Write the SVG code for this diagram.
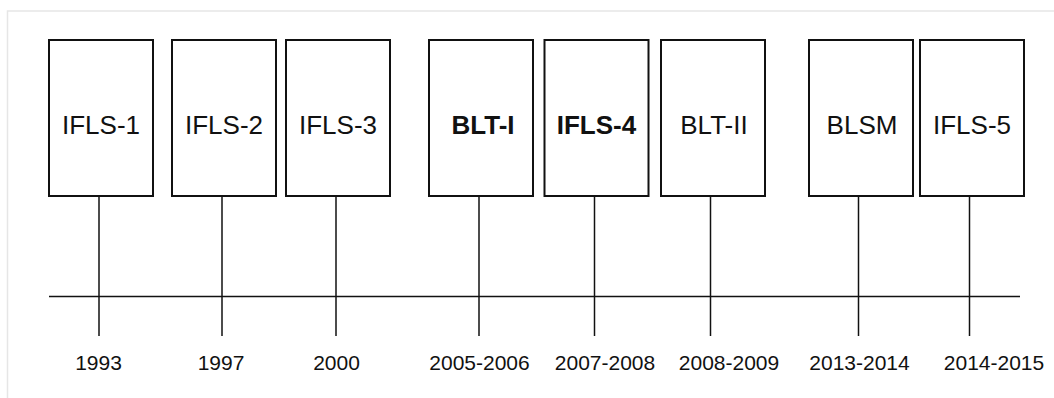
<svg xmlns="http://www.w3.org/2000/svg" width="1054" height="398" viewBox="0 0 1054 398">
  <style>
    .frame { fill: none; stroke: #e6e6e6; stroke-width: 1.5; }
    .box { fill: #ffffff; stroke: #111111; stroke-width: 2; }
    .label { font-family: "Liberation Sans", Arial, sans-serif; font-size: 26px; fill: #111111; text-anchor: middle; }
    .label.strong { font-weight: bold; }
    .year { font-family: "Liberation Sans", Arial, sans-serif; font-size: 21px; fill: #111111; text-anchor: middle; }
    .conn { stroke: #111111; stroke-width: 1.5; fill: none; }
  </style>
  <rect width="1054" height="398" fill="#ffffff"/>
  <!-- outer frame edges -->
  <path class="frame" d="M7.5 398 V11 H1054"/>

  <!-- timeline axis and ticks -->
  <g id="connectors">
    <line class="conn" x1="49" y1="296.5" x2="1020" y2="296.5"/>
    <line class="conn" x1="99" y1="197" x2="99" y2="336"/>
    <line class="conn" x1="222" y1="197" x2="222" y2="336"/>
    <line class="conn" x1="336" y1="197" x2="336" y2="336"/>
    <line class="conn" x1="479" y1="197" x2="479" y2="336"/>
    <line class="conn" x1="594.5" y1="197" x2="594.5" y2="336"/>
    <line class="conn" x1="710.5" y1="197" x2="710.5" y2="336"/>
    <line class="conn" x1="858.5" y1="197" x2="858.5" y2="336"/>
    <line class="conn" x1="969.5" y1="197" x2="969.5" y2="336"/>
  </g>

  <g id="ifls1">
    <rect class="box" x="49" y="40" width="104" height="156"/>
    <text class="label" x="101" y="134">IFLS-1</text>
    <text class="year" x="98.5" y="370">1993</text>
  </g>
  <g id="ifls2">
    <rect class="box" x="172" y="40" width="104" height="156"/>
    <text class="label" x="224" y="134">IFLS-2</text>
    <text class="year" x="221" y="370">1997</text>
  </g>
  <g id="ifls3">
    <rect class="box" x="286" y="40" width="104" height="156"/>
    <text class="label" x="338" y="134">IFLS-3</text>
    <text class="year" x="336.5" y="370">2000</text>
  </g>
  <g id="blt1">
    <rect class="box" x="429" y="40" width="104" height="156"/>
    <text class="label strong" x="483" y="134">BLT-I</text>
    <text class="year" x="479.5" y="370">2005-2006</text>
  </g>
  <g id="ifls4">
    <rect class="box" x="544.5" y="40" width="104" height="156"/>
    <text class="label strong" x="596.5" y="134">IFLS-4</text>
    <text class="year" x="605" y="370">2007-2008</text>
  </g>
  <g id="blt2">
    <rect class="box" x="661" y="40" width="104" height="156"/>
    <text class="label" x="714" y="134">BLT-II</text>
    <text class="year" x="729" y="370">2008-2009</text>
  </g>
  <g id="blsm">
    <rect class="box" x="809" y="40" width="104" height="156"/>
    <text class="label" x="862" y="134">BLSM</text>
    <text class="year" x="859.5" y="370">2013-2014</text>
  </g>
  <g id="ifls5">
    <rect class="box" x="920" y="40" width="104" height="156"/>
    <text class="label" x="972" y="134">IFLS-5</text>
    <text class="year" x="994" y="370">2014-2015</text>
  </g>
</svg>
